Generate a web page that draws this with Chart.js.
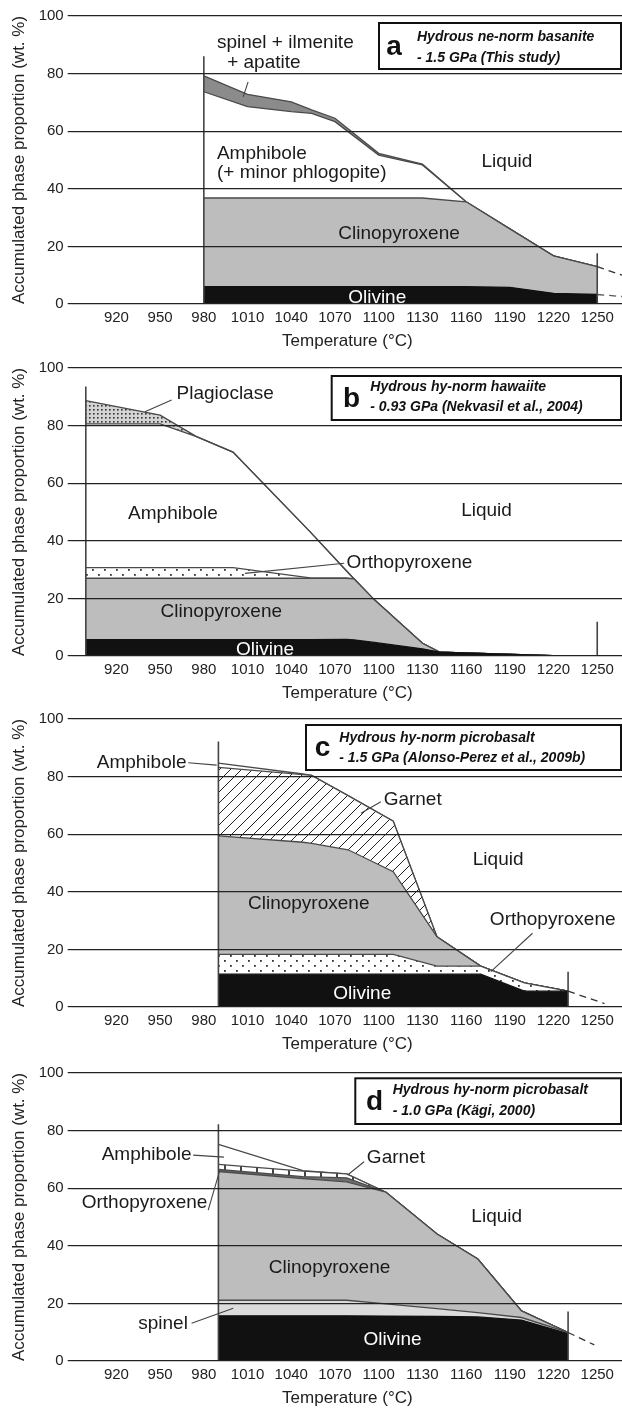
<!DOCTYPE html>
<html>
<head>
<meta charset="utf-8">
<title>Accumulated phase proportions</title>
<script src="https://cdn.jsdelivr.net/npm/chart.js@4.4.1/dist/chart.umd.min.js"></script>
<style>
  html, body { margin: 0; padding: 0; background: #fff; }
  body { width: 622px; height: 1412px; position: relative; overflow: hidden; }
  .panel { position: absolute; left: 0; }
</style>
</head>
<body>
<canvas id="chartA" class="panel" width="622" height="352" style="top:0"></canvas>
<canvas id="chartB" class="panel" width="622" height="352" style="top:352px"></canvas>
<canvas id="chartC" class="panel" width="622" height="352" style="top:703px"></canvas>
<canvas id="chartD" class="panel" width="622" height="352" style="top:1057px"></canvas>
<script>
// shared axes
const tickTemps = [920, 950, 980, 1010, 1040, 1070, 1100, 1130, 1160, 1190, 1220, 1250];
const tickPercents = [0, 20, 40, 60, 80, 100];

// (a) ne-norm basanite, 1.5 GPa - cumulative upper boundaries
const tempA    = [980, 1010, 1040, 1054, 1070, 1100, 1130, 1160, 1190, 1220, 1250];
const olivineA = [6, 6, 6, 6, 6, 6, 6, 6, 5.8, 3.7, 3.3];
const cpxA     = [36.8, 36.8, 36.8, 36.8, 36.8, 36.8, 36.8, 35.5, 26.1, 16.7, 13];
const amphA    = [73.7, 68.5, 66.8, 66.2, 63.3, 51.7, 48.3, 35.5, 26.1, 16.7, 13];
const spinelA  = [79.2, 72.8, 70.2, 67.4, 64.5, 52.3, 48.6, 35.5, 26.1, 16.7, 13];
const tailTempA = [1250, 1267];
const liquidTailA = [13, 10];
const olivineTailA = [3.3, 2.6];
const markerTempA = [980, 1250];
const markerTopA = [86, 17.6];

// (b) hy-norm hawaiite, 0.93 GPa
const tempB    = [899, 950, 975, 1000, 1053, 1078, 1083, 1097, 1130, 1142, 1225];
const olivineB = [5.7, 5.7, 5.7, 5.7, 5.7, 5.8, 5.6, 4.7, 2.5, 1.3, 0];
const cpxB     = [27, 27, 27, 27, 27, 27, 26.8, 19.5, 4.4, 1.3, 0];
const opxB     = [30.7, 30.7, 30.7, 30.7, 27.1, 27, 26.8, 19.5, 4.4, 1.3, 0];
const amphB    = [80.6, 80.6, 76.2, 70.8, 43.1, 29.5, 26.8, 19.5, 4.4, 1.3, 0];
const plagB    = [88.7, 83.6, 76.2, 70.8, 43.1, 29.5, 26.8, 19.5, 4.4, 1.3, 0];
const markerTempB = [899, 1250];
const markerTopB = [93.6, 11.9];

// (c) hy-norm picrobasalt, 1.5 GPa
const tempC    = [990, 1048, 1054, 1079, 1110, 1140, 1170, 1200, 1230];
const olivineC = [11.4, 11.4, 11.4, 11.4, 11.4, 11.4, 11.4, 5.5, 5.5];
const opxC     = [18.3, 18.3, 18.3, 18.3, 18.3, 14.2, 14.2, 8.4, 5.5];
const cpxC     = [59.4, 57.2, 56.8, 54.6, 47, 24.4, 14.2, 8.4, 5.5];
const garnetC  = [83.2, 80.7, 80.4, 73.4, 64.5, 24.4, 14.2, 8.4, 5.5];
const liquidC  = [84.7, 80.9, 80.4, 73.4, 64.5, 24.4, 14.2, 8.4, 5.5];
const tailTempC = [1230, 1255];
const liquidTailC = [5.5, 1.2];
const markerTempC = [990, 1230];
const markerTopC = [92.2, 12.2];

// (d) hy-norm picrobasalt, 1.0 GPa
const tempD    = [990, 1048, 1078, 1105, 1140, 1168, 1198, 1230];
const olivineD = [15.7, 15.7, 15.7, 15.6, 15.5, 15.3, 14.2, 9.5];
const spinelD  = [21.1, 21.1, 21.1, 19.8, 18.2, 16.8, 15.1, 9.9];
const cpxD     = [65.8, 63.3, 62.2, 58.6, 44.1, 35.4, 17.4, 9.9];
const opxD     = [66.5, 64.0, 63.6, 58.6, 44.1, 35.4, 17.4, 9.9];
const garnetD  = [68.3, 65.9, 65.0, 58.6, 44.1, 35.4, 17.4, 9.9];
const liquidD  = [75.2, 66.1, 65.0, 58.6, 44.1, 35.4, 17.4, 9.9];
const tailTempD = [1230, 1248];
const liquidTailD = [9.9, 5.6];
const markerTempD = [990, 1230];
const markerTopD = [82.2, 17.2];

Chart.defaults.font.family = '"Liberation Sans", Arial, Helvetica, sans-serif';
Chart.defaults.color = '#222';

// fill patterns
function makePattern(w, h, paint) {
  const c = document.createElement('canvas');
  c.width = w; c.height = h;
  const g = c.getContext('2d');
  paint(g);
  return g.createPattern(c, 'repeat');
}
const plagDots = makePattern(4, 4, g => {
  g.fillStyle = '#d4d4d4'; g.fillRect(0, 0, 4, 4);
  g.fillStyle = '#333'; g.fillRect(1, 1, 1.6, 1.6);
});
const opxDots = makePattern(12, 10, g => {
  g.fillStyle = '#fff'; g.fillRect(0, 0, 12, 10);
  g.fillStyle = '#333'; g.fillRect(2, 2, 1.8, 1.8); g.fillRect(8, 7, 1.8, 1.8);
});
const hatch = makePattern(11, 11, g => {
  g.fillStyle = '#fff'; g.fillRect(0, 0, 11, 11);
  g.strokeStyle = '#222'; g.lineWidth = 1;
  g.beginPath(); g.moveTo(-1, 12); g.lineTo(12, -1); g.stroke();
});
const garnetTicks = makePattern(16, 8, g => {
  g.fillStyle = '#fff'; g.fillRect(0, 0, 16, 8);
  g.fillStyle = '#444'; g.fillRect(0, 0, 2, 8);
});

const GRAY = '#bdbdbd';
const LINE = '#4a4a4a';

function pts(temps, vals) {
  return temps.map((t, i) => ({x: t, y: vals[i]}));
}
function layer(temps, vals, fill, bg, border) {
  return {data: pts(temps, vals), fill: fill, backgroundColor: bg || 'transparent', borderColor: border || LINE};
}
function markers(temps, tops) {
  return temps.map((t, i) => ({data: pts([t, t], [0, tops[i]]), fill: false, borderColor: '#444', borderWidth: 1.6, order: -1}));
}
function tail(temps, vals, color) {
  return {data: pts(temps, vals), fill: false, borderColor: color || '#333', borderDash: [7, 5], borderWidth: 1.3, order: -1};
}

// labels, pointers and the caption box of each panel (label positions in data units)
const notes = {
  chartA: {
    labels: [
      {text: 'spinel + ilmenite', t: 989, v: 90.6, align: 'left'},
      {text: '+ apatite', t: 996, v: 83.7, align: 'left'},
      {text: 'Amphibole', t: 989, v: 52.1, align: 'left'},
      {text: '(+ minor phlogopite)', t: 989, v: 45.5, align: 'left'},
      {text: 'Liquid', t: 1188, v: 49.4},
      {text: 'Clinopyroxene', t: 1114, v: 24.3},
      {text: 'Olivine', t: 1099, v: 2.2, white: true}
    ],
    pointers: [[1010.4, 77.1, 1007, 71.9]],
    box: {left: 379, top: 23, right: 621, bottom: 69, letter: 'a', letterX: 394, textX: 417, line1: 37, line2: 58,
          lines: ['Hydrous ne-norm basanite', '- 1.5 GPa (This study)']}
  },
  chartB: {
    labels: [
      {text: 'Plagioclase', t: 961.3, v: 90.9, align: 'left'},
      {text: 'Amphibole', t: 928, v: 49.5, align: 'left'},
      {text: 'Liquid', t: 1174, v: 50.5},
      {text: 'Orthopyroxene', t: 1078, v: 32.2, align: 'left'},
      {text: 'Clinopyroxene', t: 992, v: 15.4},
      {text: 'Olivine', t: 1022, v: 2.1, white: true}
    ],
    pointers: [[957.9, 88.9, 939.6, 84.8], [1076.3, 32.2, 1008.2, 28.7]],
    box: {left: 331.7, top: 24, right: 621, bottom: 68, letter: 'b', letterX: 351.5, textX: 370.3, line1: 35, line2: 55,
          lines: ['Hydrous hy-norm hawaiite', '- 0.93 GPa (Nekvasil et al., 2004)']}
  },
  chartC: {
    labels: [
      {text: 'Amphibole', t: 906.5, v: 84.8, align: 'left'},
      {text: 'Garnet', t: 1103.4, v: 72.1, align: 'left'},
      {text: 'Liquid', t: 1182, v: 51},
      {text: 'Clinopyroxene', t: 1052, v: 36},
      {text: 'Orthopyroxene', t: 1176.3, v: 30.2, align: 'left'},
      {text: 'Olivine', t: 1088.7, v: 4.5, white: true}
    ],
    pointers: [[969.3, 84.8, 988.8, 84.0], [1101.5, 71.3, 1087.8, 67.3], [1205.6, 25.6, 1177, 12.3]],
    box: {left: 306, top: 22, right: 621, bottom: 67, letter: 'c', letterX: 322.5, textX: 339.3, line1: 35, line2: 55,
          lines: ['Hydrous hy-norm picrobasalt', '- 1.5 GPa (Alonso-Perez et al., 2009b)']}
  },
  chartD: {
    labels: [
      {text: 'Amphibole', t: 909.9, v: 71.5, align: 'left'},
      {text: 'Orthopyroxene', t: 896.2, v: 54.8, align: 'left'},
      {text: 'Garnet', t: 1091.9, v: 70.4, align: 'left'},
      {text: 'Liquid', t: 1181, v: 50.1},
      {text: 'Clinopyroxene', t: 1066.3, v: 32.4},
      {text: 'spinel', t: 935, v: 13.1, align: 'left'},
      {text: 'Olivine', t: 1109.5, v: 7.5, white: true}
    ],
    pointers: [[972.7, 71.5, 993.8, 70.8], [983, 52.4, 991, 66.3], [1090, 69.2, 1078.7, 64.6], [971.6, 13.1, 1000.2, 18.3]],
    box: {left: 355.3, top: 21.3, right: 621, bottom: 67, letter: 'd', letterX: 374.5, textX: 392.7, line1: 33, line2: 54,
          lines: ['Hydrous hy-norm picrobasalt', '- 1.0 GPa (Kägi, 2000)']}
  }
};

const FONT = '"Liberation Sans", Arial, Helvetica, sans-serif';

const notesPlugin = {
  id: 'notes',
  afterDraw(chart) {
    const spec = notes[chart.canvas.id];
    if (!spec) return;
    const ctx = chart.ctx;
    const x = chart.scales.x, y = chart.scales.y;
    ctx.save();
    ctx.strokeStyle = '#444';
    ctx.lineWidth = 1.1;
    spec.pointers.forEach(p => {
      ctx.beginPath();
      ctx.moveTo(x.getPixelForValue(p[0]), y.getPixelForValue(p[1]));
      ctx.lineTo(x.getPixelForValue(p[2]), y.getPixelForValue(p[3]));
      ctx.stroke();
    });
    ctx.font = '19px ' + FONT;
    ctx.textBaseline = 'middle';
    spec.labels.forEach(l => {
      ctx.fillStyle = l.white ? '#fff' : '#1a1a1a';
      ctx.textAlign = l.align || 'center';
      ctx.fillText(l.text, x.getPixelForValue(l.t), y.getPixelForValue(l.v));
    });
    // caption box
    const b = spec.box;
    ctx.fillStyle = '#fff';
    ctx.fillRect(b.left, b.top, b.right - b.left, b.bottom - b.top);
    ctx.strokeStyle = '#111';
    ctx.lineWidth = 2;
    ctx.strokeRect(b.left, b.top, b.right - b.left, b.bottom - b.top);
    ctx.fillStyle = '#111';
    ctx.textAlign = 'center';
    ctx.font = 'bold 28px ' + FONT;
    ctx.fillText(b.letter, b.letterX, (b.top + b.bottom) / 2 + 1);
    ctx.textAlign = 'left';
    ctx.font = 'italic bold 14px ' + FONT;
    ctx.fillText(b.lines[0], b.textX, b.line1);
    ctx.fillText(b.lines[1], b.textX, b.line2);
    ctx.restore();
  }
};

function scales() {
  return {
    x: {
      type: 'linear',
      min: 890,
      max: 1267,
      afterBuildTicks: s => { s.ticks = tickTemps.map(v => ({value: v})); },
      afterFit: s => { s.height = 48; },
      grid: {display: false, drawTicks: false},
      border: {display: false},
      ticks: {callback: v => String(v), font: {size: 15}, color: '#222', padding: 5, maxRotation: 0, autoSkip: false},
      title: {display: true, text: 'Temperature (°C)', font: {size: 17}, color: '#222', padding: {top: 0, bottom: 0}}
    },
    y: {
      min: 0,
      max: 100,
      afterBuildTicks: s => { s.ticks = tickPercents.map(v => ({value: v})); },
      afterFit: s => { s.width = 72.7; },
      grid: {color: '#222', lineWidth: 1.2, tickLength: 5, z: 1},
      border: {display: false},
      ticks: {font: {size: 15}, color: '#222', padding: 4},
      title: {display: true, text: 'Accumulated phase proportion (wt. %)', font: {size: 17}, color: '#222', padding: {top: 9, bottom: 0}}
    }
  };
}

function makeChart(id, datasets) {
  return new Chart(id, {
    type: 'line',
    data: {datasets: datasets},
    options: {
      responsive: false,
      animation: false,
      devicePixelRatio: 1,
      layout: {padding: {top: 16, left: 0, right: 0, bottom: 0}},
      elements: {point: {radius: 0}, line: {borderWidth: 1.3, tension: 0}},
      plugins: {legend: {display: false}, tooltip: {enabled: false}},
      scales: scales()
    },
    plugins: [notesPlugin]
  });
}

makeChart('chartA', [
  layer(tempA, olivineA, 'origin', '#111', '#111'),
  layer(tempA, cpxA, '-1', GRAY),
  layer(tempA, amphA, false),
  layer(tempA, spinelA, '-1', '#8b8b8b'),
  tail(tailTempA, liquidTailA),
  tail(tailTempA, olivineTailA, '#555'),
  ...markers(markerTempA, markerTopA)
]);

makeChart('chartB', [
  layer(tempB, olivineB, 'origin', '#111', '#111'),
  layer(tempB, cpxB, '-1', GRAY),
  layer(tempB, opxB, '-1', opxDots),
  layer(tempB, amphB, false),
  layer(tempB, plagB, '-1', plagDots),
  ...markers(markerTempB, markerTopB)
]);

makeChart('chartC', [
  layer(tempC, olivineC, 'origin', '#111', '#111'),
  layer(tempC, opxC, '-1', opxDots),
  layer(tempC, cpxC, '-1', GRAY),
  layer(tempC, garnetC, '-1', hatch),
  layer(tempC, liquidC, false),
  tail(tailTempC, liquidTailC),
  ...markers(markerTempC, markerTopC)
]);

makeChart('chartD', [
  layer(tempD, olivineD, 'origin', '#111', '#111'),
  layer(tempD, spinelD, '-1', '#dcdcdc'),
  layer(tempD, cpxD, '-1', GRAY),
  layer(tempD, opxD, '-1', '#6e6e6e'),
  layer(tempD, garnetD, '-1', garnetTicks),
  layer(tempD, liquidD, false),
  tail(tailTempD, liquidTailD),
  ...markers(markerTempD, markerTopD)
]);
</script>
</body>
</html>
